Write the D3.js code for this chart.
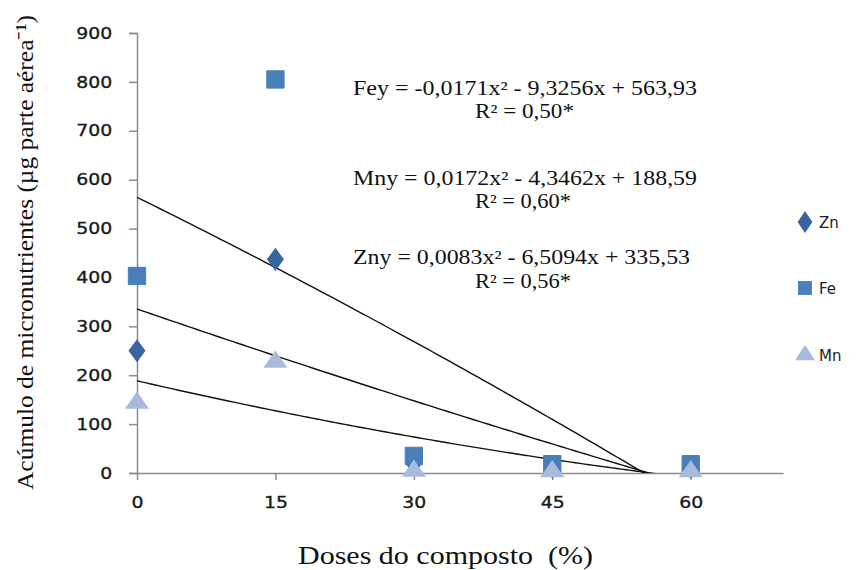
<!DOCTYPE html>
<html><head><meta charset="utf-8">
<script src="https://cdn.jsdelivr.net/npm/d3@7"></script>
<style>body{margin:0;background:#fff}svg{display:block}</style>
</head><body>
<svg id="c" width="858" height="570"></svg>
<script>
const doses = [0, 15, 30, 45, 60];
const zn = [250, 437, 20, 12, 12];
const fe = [403, 805, 35, 18, 18];
const mn = [145, 229, 6, 5, 5];
const yTicks = [0, 100, 200, 300, 400, 500, 600, 700, 800, 900];
const xTicks = [0, 15, 30, 45, 60];
// printed trendline coefficients [a, b, c] for y = a x^2 + b x + c
const feFit = [-0.0171, -9.3256, 563.93];
const mnFit = [0.0172, -4.3462, 188.59];
const znFit = [0.0083, -6.5094, 335.53];
const eqTexts = [
  ["Fey = -0,0171x² - 9,3256x + 563,93", "R² = 0,50*"],
  ["Mny = 0,0172x² - 4,3462x + 188,59", "R² = 0,60*"],
  ["Zny = 0,0083x² - 6,5094x + 335,53", "R² = 0,56*"]
];

const svg = d3.select("#c");
const x = d3.scaleLinear().domain([0, 70]).range([137, 783]);
const y = d3.scaleLinear().domain([0, 900]).range([473, 33]);
const axisColor = "#8c8c8c";
const sx = 1.18;

svg.append("clipPath").attr("id","pa").append("rect")
  .attr("x", x(0)).attr("y", y(900)).attr("width", x(70)-x(0)).attr("height", y(0)-y(900));

function styleTicks(sel) {
  sel.attr("font-family", "DejaVu Sans").attr("font-size", 16)
    .attr("fill", "#1a1a1a").attr("stroke", "#1a1a1a").attr("stroke-width", 0.35);
}

// y axis
const ya = svg.append("g").attr("transform", `translate(${x(0)},0)`)
  .call(d3.axisLeft(y).tickValues(yTicks).tickSize(8).tickPadding(13));
ya.select(".domain").attr("stroke", axisColor).attr("stroke-width", 1.5);
ya.selectAll(".tick line").attr("stroke", axisColor).attr("stroke-width", 1.5);
styleTicks(ya.selectAll("text").attr("transform", `scale(${sx},1)`));

// x axis
const xa = svg.append("g").attr("transform", `translate(0,${y(0)})`)
  .call(d3.axisBottom(x).tickValues(xTicks).tickSize(7).tickPadding(17).tickSizeOuter(0));
xa.select(".domain").attr("stroke", axisColor).attr("stroke-width", 1.5);
xa.selectAll(".tick line").attr("stroke", axisColor).attr("stroke-width", 1.5);
styleTicks(xa.selectAll("text").attr("transform", `scale(${sx},1)`));

// trendlines
const line = d3.line().x(d => x(d[0])).y(d => y(d[1]));
[feFit, znFit, mnFit].forEach(f => {
  const pts = d3.range(0, 60.01, 0.5).map(t => [t, f[0]*t*t + f[1]*t + f[2]]);
  svg.append("path").attr("d", line(pts)).attr("fill", "none")
    .attr("stroke", "#111").attr("stroke-width", 1.4).attr("clip-path", "url(#pa)");
});

// markers
const diamond = d3.symbol().type(d3.symbolDiamond).size(190);
const square = d3.symbol().type(d3.symbolSquare).size(300);
const tri = d3.symbol().type(d3.symbolTriangle).size(190);
const cZn = "#3a64a0", cFe = "#4a7ebb", cMn = "#a9bbdc";
svg.append("g").selectAll("path").data(doses).join("path")
  .attr("d", diamond).attr("transform", (d,i) => `translate(${x(d)},${y(zn[i])}) scale(1.15,0.9)`).attr("fill", cZn);
svg.append("g").selectAll("path").data(doses).join("path")
  .attr("d", square).attr("transform", (d,i) => `translate(${x(d)},${y(fe[i])})`).attr("fill", cFe)
  .attr("stroke", cFe).attr("stroke-width", 1).attr("stroke-linejoin", "round");
svg.append("g").selectAll("path").data(doses).join("path")
  .attr("d", tri).attr("transform", (d,i) => `translate(${x(d)},${y(mn[i])+1}) scale(1.15,0.95)`).attr("fill", cMn);

// equations
const eqY = [[95, 118], [185, 208], [264, 288]];
const eqLen = [[344, 99], [344, 96], [337, 96]];
eqTexts.forEach((t, i) => {
  t.forEach((s, j) => {
    svg.append("text").attr("x", j === 0 ? 353 : 475).attr("y", eqY[i][j])
      .attr("textLength", eqLen[i][j]).attr("lengthAdjust", "spacingAndGlyphs")
      .attr("font-family", "Liberation Serif").attr("font-size", 20).attr("fill", "#111").text(s);
  });
});

// legend
const lg = svg.append("g");
const legItems = [["Zn", diamond, cZn, 222, "scale(1.0,0.85)"], ["Fe", square, cFe, 288, "scale(0.8)"], ["Mn", tri, cMn, 355, "scale(0.95,0.85)"]];
legItems.forEach(([n, sym, c, yy, sc]) => {
  lg.append("path").attr("d", sym).attr("fill", c).attr("transform", `translate(805,${yy}) ${sc}`);
  lg.append("text").attr("x", 819).attr("y", yy + 6).attr("font-family", "DejaVu Sans")
    .attr("font-size", 15).attr("fill", "#222").text(n);
});

// axis titles
svg.append("text").attr("x", 298).attr("y", 564)
  .attr("textLength", 295).attr("lengthAdjust", "spacingAndGlyphs")
  .attr("font-family", "Liberation Serif").attr("font-size", 25).attr("fill", "#111")
  .attr("xml:space", "preserve").text("Doses do composto  (%)");
svg.append("text").attr("transform", "translate(33,490) rotate(-90)")
  .attr("textLength", 475).attr("lengthAdjust", "spacingAndGlyphs")
  .attr("font-family", "Liberation Serif").attr("font-size", 24).attr("fill", "#111")
  .text("Acúmulo de micronutrientes (µg parte aérea⁻¹)");
</script>
</body></html>
